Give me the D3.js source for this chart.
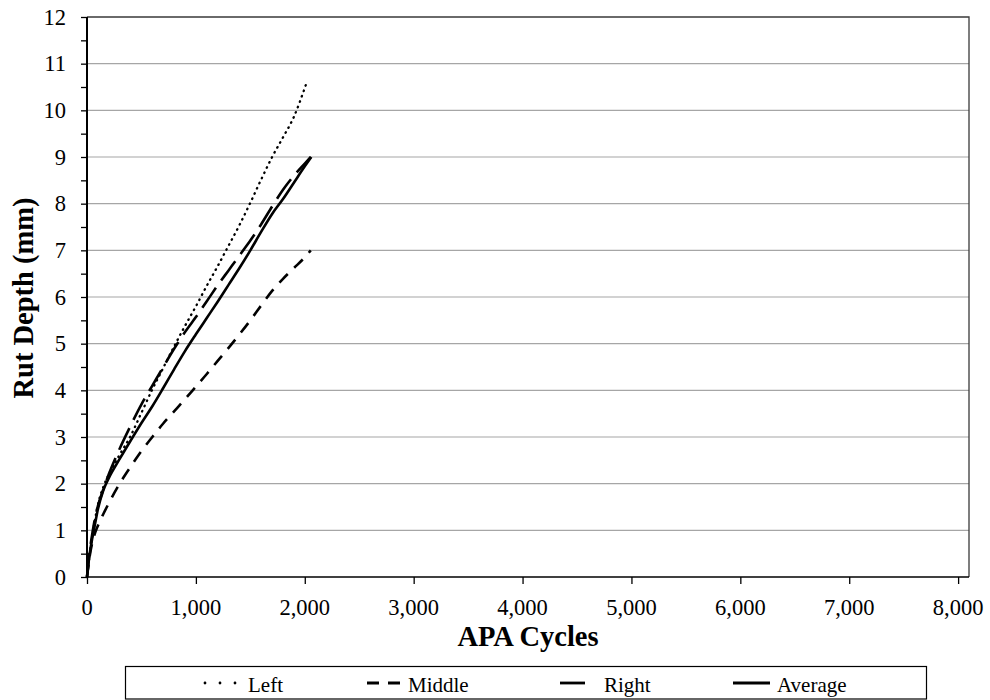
<!DOCTYPE html>
<html>
<head>
<meta charset="utf-8">
<script src="https://cdn.jsdelivr.net/npm/d3@7"></script>
<style>
  html, body { margin: 0; padding: 0; background: #fff; }
</style>
</head>
<body>
<svg id="chart" width="990" height="700" font-family="'Liberation Serif', 'Times New Roman', serif"></svg>
<script>
// APA rut depth vs. load cycles, per wheel-track position
const cycles = [0, 25, 50, 75, 100, 150, 200, 300, 400, 500, 600, 700, 800, 900, 1000,
                1100, 1200, 1300, 1400, 1500, 1600, 1700, 1800, 1900, 2000];
const leftDepth    = [0, 0.50, 0.90, 1.25, 1.55, 1.93, 2.20, 2.62, 3.02, 3.52, 4.02, 4.48, 4.94, 5.38, 5.80,
                      6.24, 6.66, 7.10, 7.54, 8.02, 8.52, 9.00, 9.42, 9.86, 10.48];
const middleDepth  = [0, 0.45, 0.75, 0.95, 1.10, 1.35, 1.58, 2.00, 2.36, 2.70, 3.00, 3.29, 3.55, 3.81, 4.08,
                      4.35, 4.63, 4.91, 5.20, 5.50, 5.82, 6.13, 6.39, 6.62, 6.85];
const rightDepth   = [0, 0.55, 0.95, 1.28, 1.52, 1.88, 2.20, 2.75, 3.24, 3.70, 4.10, 4.50, 4.89, 5.25, 5.57,
                      5.91, 6.25, 6.57, 6.89, 7.21, 7.56, 7.94, 8.30, 8.60, 8.86];
const averageDepth = [0, 0.50, 0.85, 1.15, 1.45, 1.86, 2.12, 2.53, 2.92, 3.30, 3.66, 4.05, 4.45, 4.84, 5.20,
                      5.55, 5.90, 6.26, 6.62, 7.00, 7.40, 7.78, 8.10, 8.45, 8.80];
// final readings of each run
const endCycles = { Left: 2018, Middle: 2055, Right: 2055, Average: 2060 };
const endDepth  = { Left: 10.60, Middle: 7.00, Right: 9.00, Average: 9.00 };

const seriesNames = ["Left", "Middle", "Right", "Average"];
const xTicks = [0, 1000, 2000, 3000, 4000, 5000, 6000, 7000, 8000];
const yTicks = [0, 1, 2, 3, 4, 5, 6, 7, 8, 9, 10, 11, 12];

const depthBySeries = { Left: leftDepth, Middle: middleDepth, Right: rightDepth, Average: averageDepth };
const styles = {
  Left:    { dash: "0.6 5.1", cap: "round", width: 2.3 },
  Middle:  { dash: "12 9",    cap: "butt",  width: 2.6 },
  Right:   { dash: "24 9",    cap: "butt",  width: 2.6 },
  Average: { dash: null,      cap: "butt",  width: 2.6 }
};

const svg = d3.select("#chart");
const plot = { left: 87, right: 969, top: 17, bottom: 577 };

const x = d3.scaleLinear().domain([0, 8100]).range([plot.left, plot.right]);
const y = d3.scaleLinear().domain([0, 12]).range([plot.bottom, plot.top]);

// horizontal gridlines
svg.append("g")
  .selectAll("line")
  .data(yTicks.filter(v => v > 0 && v < 12))
  .join("line")
  .attr("x1", plot.left).attr("x2", plot.right)
  .attr("y1", d => y(d)).attr("y2", d => y(d))
  .attr("stroke", "#a6a6a6").attr("stroke-width", 1.2);

// plot frame (top and right)
svg.append("path")
  .attr("d", `M${plot.left},${plot.top}H${plot.right}V${plot.bottom}`)
  .attr("fill", "none").attr("stroke", "#3a3a3a").attr("stroke-width", 1.3);

// y axis with half-unit minor ticks
const yMinor = d3.range(0, 12.01, 0.5);
const yAxis = svg.append("g").attr("transform", `translate(${plot.left},0)`);
yAxis.call(d3.axisLeft(y).tickValues(yMinor).tickSize(6).tickFormat(""));
yAxis.select(".domain").remove();
yAxis.selectAll(".tick line").attr("stroke", "#000").attr("stroke-width", 1.3);
yAxis.append("line").attr("x1", 0).attr("x2", 0).attr("y1", plot.top).attr("y2", plot.bottom)
  .attr("stroke", "#000").attr("stroke-width", 2);
svg.append("g").selectAll("text")
  .data(yTicks).join("text")
  .attr("x", 66).attr("y", d => y(d)).attr("dy", "0.34em")
  .attr("text-anchor", "end").attr("font-size", 22.5)
  .text(d => d);

// x axis
const xAxis = svg.append("g").attr("transform", `translate(0,${plot.bottom})`);
xAxis.call(d3.axisBottom(x).tickValues(xTicks).tickSize(7).tickFormat(""));
xAxis.select(".domain").remove();
xAxis.selectAll(".tick line").attr("stroke", "#000").attr("stroke-width", 1.3);
xAxis.append("line").attr("x1", plot.left).attr("x2", plot.right).attr("y1", 0).attr("y2", 0)
  .attr("stroke", "#000").attr("stroke-width", 1.5);
svg.append("g").selectAll("text")
  .data(xTicks).join("text")
  .attr("x", d => x(d)).attr("y", 615)
  .attr("text-anchor", "middle").attr("font-size", 22.5)
  .text(d => d3.format(",")(d));

// axis titles
svg.append("text")
  .attr("x", (plot.left + plot.right) / 2).attr("y", 646)
  .attr("text-anchor", "middle").attr("font-size", 28.5).attr("font-weight", "bold")
  .text("APA Cycles");
svg.append("text")
  .attr("transform", `translate(33,${(plot.top + plot.bottom) / 2 + 1}) rotate(-90)`)
  .attr("text-anchor", "middle").attr("font-size", 28.5).attr("font-weight", "bold")
  .text("Rut Depth (mm)");

// data lines
const line = d3.line().x(d => x(d[0])).y(d => y(d[1])).curve(d3.curveMonotoneX);
const lines = svg.append("g");
seriesNames.forEach(name => {
  const pts = cycles.map((c, i) => [c, depthBySeries[name][i]]);
  pts.push([endCycles[name], endDepth[name]]);
  const st = styles[name];
  lines.append("path")
    .datum(pts)
    .attr("d", line)
    .attr("fill", "none")
    .attr("stroke", "#000")
    .attr("stroke-width", st.width)
    .attr("stroke-linecap", st.cap)
    .attr("stroke-linejoin", "round")
    .attr("stroke-dasharray", st.dash);
});

// legend
const legend = svg.append("g");
legend.append("rect")
  .attr("x", 125.5).attr("y", 666.5).attr("width", 801).attr("height", 32.5)
  .attr("fill", "#fff").attr("stroke", "#000").attr("stroke-width", 1.2);
const legendItems = [
  { name: "Left",    x0: 205, len: 31, dash: "0 15", cap: "round", w: 2.8, textX: 248 },
  { name: "Middle",  x0: 367, len: 33, dash: "12 9", cap: "butt",  w: 2.8, textX: 408 },
  { name: "Right",   x0: 560, len: 25, dash: null,   cap: "butt",  w: 2.8, textX: 604 },
  { name: "Average", x0: 733, len: 37, dash: null,   cap: "butt",  w: 2.8, textX: 777 }
];
legendItems.forEach(it => {
  legend.append("line")
    .attr("x1", it.x0).attr("x2", it.x0 + it.len)
    .attr("y1", 683).attr("y2", 683)
    .attr("stroke", "#000").attr("stroke-width", it.w)
    .attr("stroke-linecap", it.cap)
    .attr("stroke-dasharray", it.dash);
  legend.append("text")
    .attr("x", it.textX).attr("y", 692)
    .attr("font-size", 21)
    .text(it.name);
});
</script>
</body>
</html>
